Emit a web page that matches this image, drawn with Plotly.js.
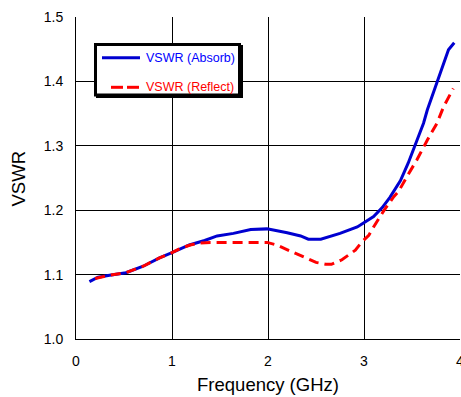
<!DOCTYPE html>
<html>
<head>
<meta charset="utf-8">
<script src="https://cdn.plot.ly/plotly-3.0.1.min.js"></script>
<style>html,body{margin:0;padding:0;background:#fff;}#chart{width:461px;height:397px;}</style>
</head>
<body>
<div id="chart"></div>
<script>
const absorbFreq = [0.14,0.23,0.35,0.52,0.70,0.87,1.00,1.18,1.34,1.47,1.64,1.82,1.99,2.10,2.20,2.34,2.42,2.55,2.75,2.93,3.00,3.10,3.19,3.27,3.38,3.46,3.53,3.62,3.66,3.76,3.83,3.88,3.94];
const absorbVswr = [1.089,1.096,1.099,1.103,1.113,1.126,1.134,1.146,1.153,1.160,1.164,1.170,1.171,1.168,1.165,1.160,1.155,1.155,1.164,1.174,1.181,1.190,1.204,1.220,1.246,1.273,1.300,1.335,1.356,1.397,1.426,1.449,1.460];
const reflectFreq = [0.20,0.35,0.52,0.70,0.87,1.00,1.09,1.19,1.29,1.40,1.70,1.99,2.09,2.20,2.30,2.41,2.50,2.60,2.66,2.77,2.91,2.98,3.05,3.10,3.21,3.31,3.36,3.45,3.55,3.66,3.76,3.83,3.93];
const reflectVswr = [1.094,1.099,1.103,1.113,1.126,1.134,1.141,1.146,1.149,1.150,1.150,1.150,1.146,1.138,1.132,1.125,1.119,1.116,1.116,1.123,1.138,1.151,1.161,1.174,1.200,1.221,1.229,1.253,1.278,1.309,1.335,1.361,1.389];
const seriesNames = ['VSWR (Absorb)', 'VSWR (Reflect)'];
const xTicks = [0,1,2,3,4];
const yTicks = [1.0,1.1,1.2,1.3,1.4,1.5];
const xTitle = 'Frequency (GHz)';
const yTitle = 'VSWR';

const FONT = 'Liberation Sans, Arial, sans-serif';
const W = 461, H = 397, L = 76, R = 1, T = 17, B = 58;
const pw = W - L - R, ph = H - T - B;
const px = x => (x - L) / pw;
const py = y => (H - B - y) / ph;

const traces = [
  {x: absorbFreq, y: absorbVswr, name: seriesNames[0], mode: 'lines',
   line: {color: '#0000d0', width: 3}},
  {x: reflectFreq, y: reflectVswr, name: seriesNames[1], mode: 'lines',
   line: {color: '#ff0000', width: 3, dash: '10px,6px'}}
];

const shapes = [
  {type: 'rect', xref: 'paper', yref: 'paper', x0: px(96), x1: px(243), y0: py(45), y1: py(98),
   fillcolor: '#000', line: {width: 0}},
  {type: 'rect', xref: 'paper', yref: 'paper', x0: px(95.5), x1: px(239.5), y0: py(44.5), y1: py(95),
   fillcolor: '#fff', line: {color: '#000', width: 3}},
  {type: 'line', xref: 'paper', yref: 'paper', x0: px(102), x1: px(140), y0: py(57.7), y1: py(57.7),
   line: {color: '#0000d0', width: 3}},
  {type: 'line', xref: 'paper', yref: 'paper', x0: px(111), x1: px(123), y0: py(87.3), y1: py(87.3),
   line: {color: '#ff0000', width: 3}},
  {type: 'line', xref: 'paper', yref: 'paper', x0: px(127), x1: px(139), y0: py(87.3), y1: py(87.3),
   line: {color: '#ff0000', width: 3}}
];

const annotations = [
  {xref: 'paper', yref: 'paper', x: px(144), y: py(57.7), xanchor: 'left', yanchor: 'middle',
   text: seriesNames[0], showarrow: false, font: {family: FONT, size: 12.5, color: '#0000ff'}},
  {xref: 'paper', yref: 'paper', x: px(144), y: py(87.3), xanchor: 'left', yanchor: 'middle',
   text: seriesNames[1], showarrow: false, font: {family: FONT, size: 12.5, color: '#ff0000'}},
  {xref: 'paper', yref: 'paper', x: px(18.5), y: py(179), xanchor: 'center', yanchor: 'middle',
   text: yTitle, textangle: -90, showarrow: false, font: {family: FONT, size: 18.5, color: '#000'}}
];

const layout = {
  width: W, height: H,
  margin: {l: L, r: R, t: T, b: B, pad: 0},
  paper_bgcolor: '#fff', plot_bgcolor: '#fff',
  showlegend: false,
  font: {family: FONT, color: '#000'},
  xaxis: {
    range: [0, 4], tickvals: xTicks, ticktext: xTicks.map(String),
    showgrid: true, gridcolor: '#000', gridwidth: 1,
    showline: true, linecolor: '#000', linewidth: 1, zeroline: false,
    ticks: '', ticklabelstandoff: 9, ticklabeloverflow: 'allow',
    tickfont: {family: FONT, size: 14, color: '#000'},
    title: {text: xTitle, font: {family: FONT, size: 18.5, color: '#000'}, standoff: 10}
  },
  yaxis: {
    range: [1.0, 1.5], tickvals: yTicks, ticktext: yTicks.map(v => v.toFixed(1)),
    showgrid: true, gridcolor: '#000', gridwidth: 1,
    showline: true, linecolor: '#000', linewidth: 1, zeroline: false,
    ticks: '', ticklabelstandoff: 9, ticklabeloverflow: 'allow',
    tickfont: {family: FONT, size: 14, color: '#000'}
  },
  shapes: shapes,
  annotations: annotations
};

Plotly.newPlot('chart', traces, layout, {displayModeBar: false, staticPlot: true});
</script>
</body>
</html>
